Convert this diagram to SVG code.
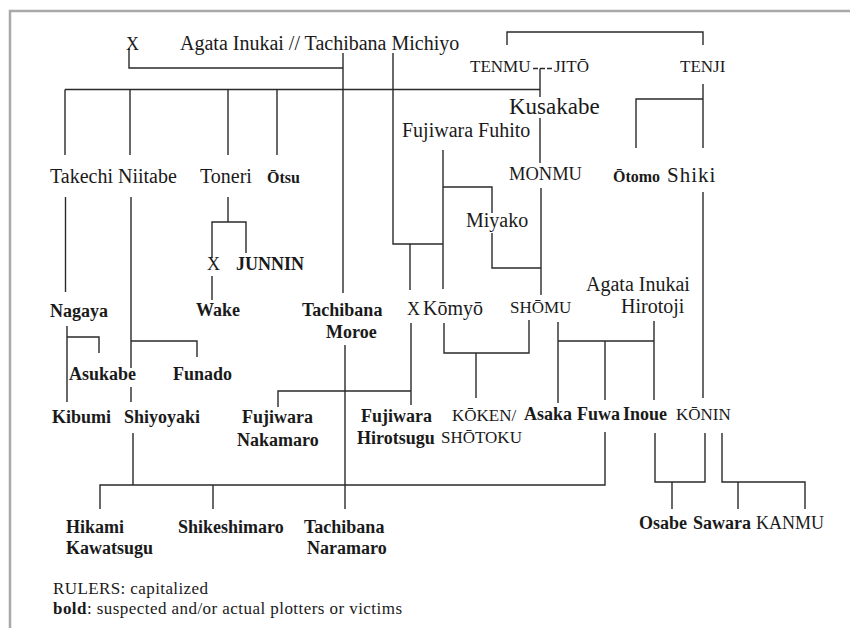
<svg xmlns="http://www.w3.org/2000/svg" width="850" height="628" viewBox="0 0 850 628">
<style>
text { font-family: "Liberation Serif", "Times New Roman", serif; font-size: 20px; fill: #1a1a1a; }
.b { font-weight: bold; font-size: 18px; }
.c { font-size: 17px; }
.x { font-size: 18px; }
.o { font-weight: bold; font-size: 16px; }
.k { font-size: 23px; }
.lg { font-size: 17px; }
.ln { stroke: #2a2a2a; stroke-width: 1.4; fill: none; }
.dash { stroke: #2a2a2a; stroke-width: 1.4; fill: none; stroke-dasharray: 5 2; }
.frame { stroke: #a9a9a9; stroke-width: 2.5; fill: none; }
</style>
<rect x="0" y="0" width="850" height="628" fill="#ffffff"/>
<path class="frame" d="M10,628 V11 H850"/>

<g id="connectors">
  <path class="ln" d="M129,48 V68 H343"/>
  <path class="ln" d="M343,53 V293"/>
  <path class="ln" d="M393,53 V244 H443"/>
  <path class="ln" d="M65,89.5 H540"/>
  <path class="ln" d="M65,89.5 V155 M130,89.5 V155 M228,89.5 V155 M277,89.5 V155"/>
  <path class="dash" d="M533,68.5 H553"/>
  <path class="ln" d="M540,68.5 V97"/>
  <path class="ln" d="M540,118 V163"/>
  <path class="ln" d="M507,45 V32 H703 V45"/>
  <path class="ln" d="M703,84 V148 M636,148 V99 H703"/>
  <path class="ln" d="M541,188 V295"/>
  <path class="ln" d="M443,150 V289"/>
  <path class="ln" d="M443,187 H492 V213"/>
  <path class="ln" d="M492,233 V268 H541"/>
  <path class="ln" d="M410,244 V290"/>
  <path class="ln" d="M703,192 V398"/>
  <path class="ln" d="M65.5,197 V292"/>
  <path class="ln" d="M131,197 V368 M131,387 V402 M131,341 H197 V357"/>
  <path class="ln" d="M228,197 V222 M212,258 V222 H246 V253"/>
  <path class="ln" d="M212,276 V300"/>
  <path class="ln" d="M67,326 V402 M67,337 H99 V353"/>
  <path class="ln" d="M345,345 V509"/>
  <path class="ln" d="M411,323 V405 M411,391 H278 V407"/>
  <path class="ln" d="M444,323 V353 H529 V320 M476,353 V398"/>
  <path class="ln" d="M558,322 V403 M558,341 H654 M654,321 V400 M605,341 V400"/>
  <path class="ln" d="M605,432 V485 H100 V509 M133,433 V485 M213,485 V509"/>
  <path class="ln" d="M655,433 V482 H705 V433 M672,482 V509"/>
  <path class="ln" d="M722,433 V482 H805 V509 M738,482 V509"/>
</g>

<g id="x-top"><text class="x" x="126" y="50">X</text></g>
<g id="michiyo"><text x="180" y="50">Agata Inukai // Tachibana Michiyo</text></g>
<g id="tenmu"><text class="c" x="470" y="72">TENMU</text></g>
<g id="jito"><text class="c" x="554" y="72">JITŌ</text></g>
<g id="tenji"><text class="c" x="680" y="72">TENJI</text></g>
<g id="kusakabe"><text class="k" x="509" y="114">Kusakabe</text></g>
<g id="fuhito"><text x="402" y="137">Fujiwara Fuhito</text></g>
<g id="takechi"><text x="50" y="183">Takechi</text></g>
<g id="niitabe"><text x="118" y="183">Niitabe</text></g>
<g id="toneri"><text x="200" y="183">Toneri</text></g>
<g id="otsu"><text class="o" x="267" y="183">Ōtsu</text></g>
<g id="monmu"><text class="c" style="font-size:18.5px" x="509" y="180">MONMU</text></g>
<g id="otomo"><text class="o" x="613" y="182">Ōtomo</text></g>
<g id="shiki"><text x="667" y="182" style="font-size:21px" letter-spacing="1">Shiki</text></g>
<g id="miyako"><text x="466" y="227">Miyako</text></g>
<g id="x-toneri"><text class="x" x="207" y="270">X</text></g>
<g id="junnin"><text class="b" x="236" y="270">JUNNIN</text></g>
<g id="hirotoji"><text x="586" y="291">Agata Inukai</text><text x="621" y="313">Hirotoji</text></g>
<g id="nagaya"><text class="b" x="50" y="317">Nagaya</text></g>
<g id="wake"><text class="b" x="196" y="316">Wake</text></g>
<g id="moroe"><text class="b" x="302" y="316">Tachibana</text><text class="b" x="326" y="338">Moroe</text></g>
<g id="x-komyo"><text class="x" x="407" y="315">X</text></g>
<g id="komyo"><text x="423" y="315">Kōmyō</text></g>
<g id="shomu"><text class="c" x="510" y="313">SHŌMU</text></g>
<g id="asukabe"><text class="b" x="69" y="380">Asukabe</text></g>
<g id="funado"><text class="b" x="173" y="380">Funado</text></g>
<g id="kibumi"><text class="b" x="52" y="423">Kibumi</text></g>
<g id="shiyoyaki"><text class="b" x="124" y="423">Shiyoyaki</text></g>
<g id="nakamaro"><text class="b" x="242" y="423">Fujiwara</text><text class="b" x="237" y="446">Nakamaro</text></g>
<g id="hirotsugu"><text class="b" x="361" y="422">Fujiwara</text><text class="b" x="357" y="444">Hirotsugu</text></g>
<g id="koken"><text class="c" x="452" y="421">KŌKEN/</text><text class="c" x="441" y="443">SHŌTOKU</text></g>
<g id="asaka"><text class="b" x="524" y="420">Asaka</text></g>
<g id="fuwa"><text class="b" x="577" y="420">Fuwa</text></g>
<g id="inoue"><text class="b" x="623" y="420">Inoue</text></g>
<g id="konin"><text class="c" x="676" y="420">KŌNIN</text></g>
<g id="hikami"><text class="b" x="66" y="533">Hikami</text><text class="b" x="66" y="554">Kawatsugu</text></g>
<g id="shikeshimaro"><text class="b" x="178" y="533">Shikeshimaro</text></g>
<g id="naramaro"><text class="b" x="304" y="533">Tachibana</text><text class="b" x="307" y="554">Naramaro</text></g>
<g id="osabe"><text class="b" x="639" y="529">Osabe</text></g>
<g id="sawara"><text class="b" x="693" y="529">Sawara</text></g>
<g id="kanmu"><text class="x" x="756" y="529">KANMU</text></g>

<g id="legend">
  <text class="lg" x="53" y="594" textLength="155" lengthAdjust="spacing">RULERS: capitalized</text>
  <text class="lg" x="53" y="613.5" textLength="349" lengthAdjust="spacing"><tspan font-weight="bold">bold</tspan>: suspected and/or actual plotters or victims</text>
</g>
</svg>
